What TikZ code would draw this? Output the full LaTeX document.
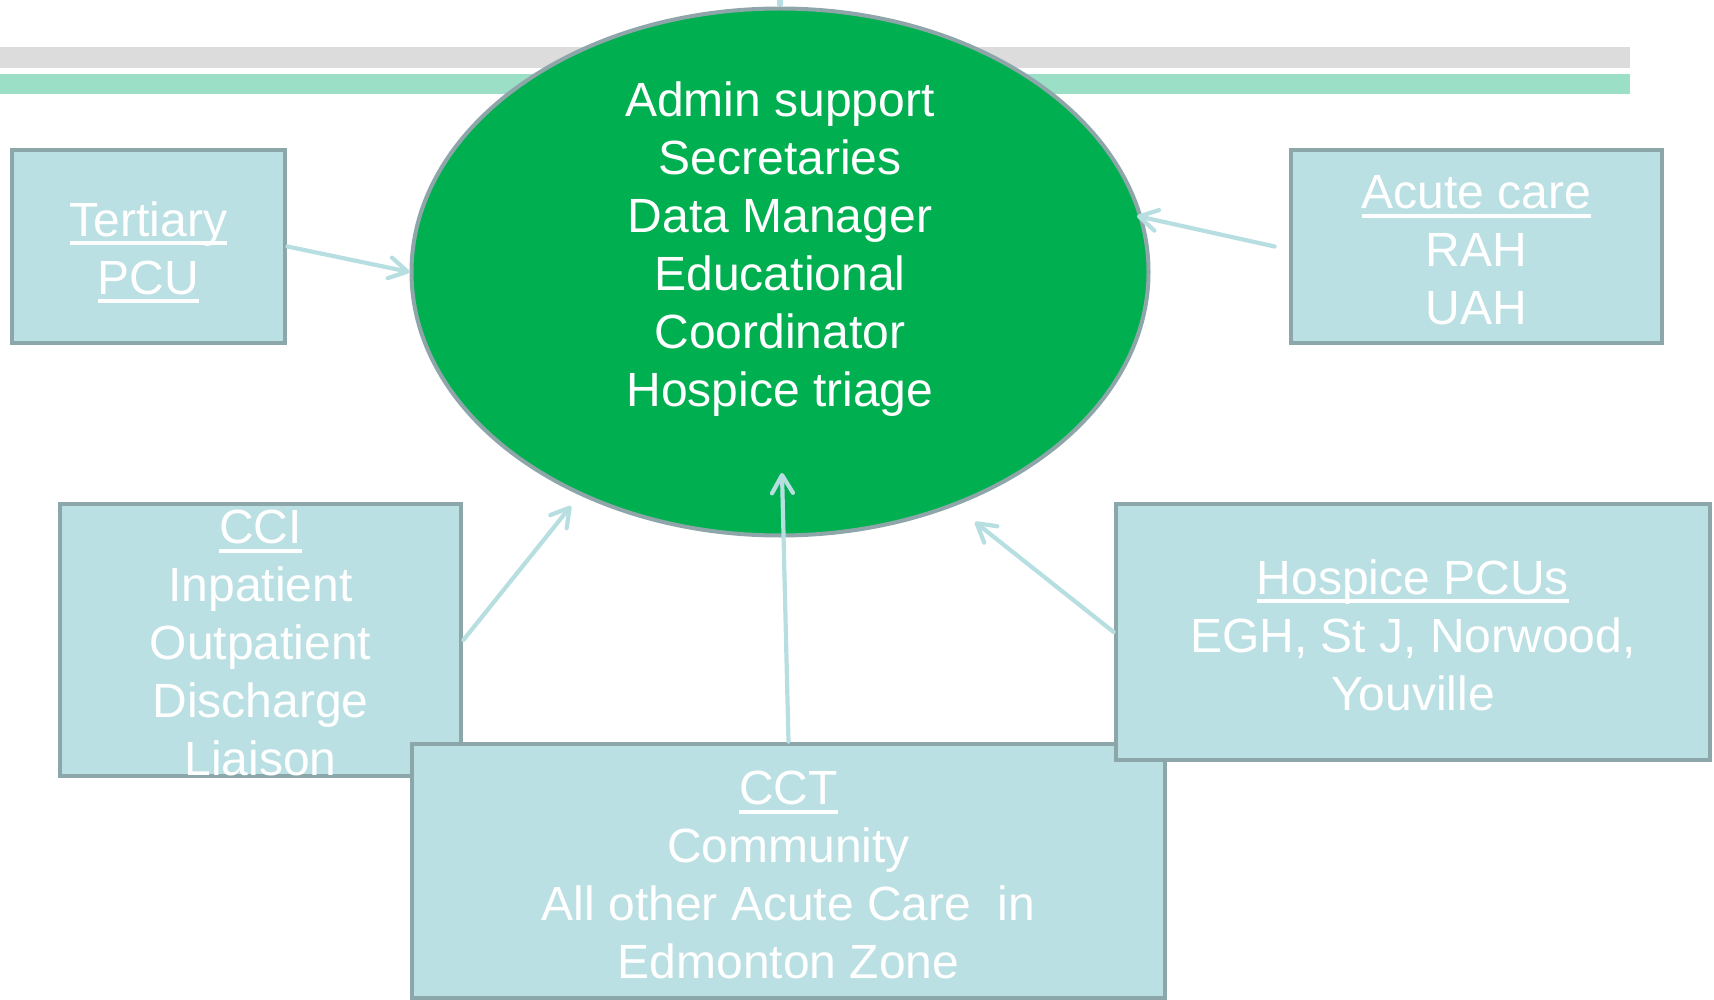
\documentclass[tikz,border=0pt]{standalone}
\usepackage{fontspec}
\setmainfont{Liberation Sans}
\usetikzlibrary{shapes.geometric,arrows.meta}
\definecolor{boxfill}{HTML}{BBE0E3}
\definecolor{boxline}{HTML}{8BA7AA}
\definecolor{hubfill}{HTML}{00B050}
\definecolor{hubline}{HTML}{8EA6A9}
\definecolor{arrowcol}{HTML}{B7DEE1}
\definecolor{grayband}{HTML}{DCDCDC}
\definecolor{greenband}{HTML}{9BDFC7}
\newcommand{\ulx}[1]{\setbox0\hbox{#1}\rlap{\rule[-9pt]{\wd0}{4pt}}\box0}
\begin{document}
\begin{tikzpicture}[x=1pt,y=-1pt,
  box/.style={draw=boxline, line width=4.8pt, fill=boxfill, rectangle, inner sep=0pt},
  txt/.style={text=white, font=\fontsize{48}{58}\selectfont, align=center, inner sep=0pt},
  link/.style={draw=arrowcol, line width=4.2pt, line cap=round,
    -{Straight Barb[length=18pt,width=21pt,line cap=round,line join=round]}}]
\useasboundingbox (0,0) rectangle (1714,1000);
\fill[grayband] (0,47) rectangle (1630,68);
\fill[greenband] (0,74) rectangle (1630,94);
\node[ellipse, draw=hubline, line width=4pt, fill=hubfill, minimum width=737pt,
  minimum height=527pt, inner sep=0pt] (hub) at (780,272) {};
\draw[arrowcol, line width=6pt] (hub.north) -- ++(0,-15);
\node[box, minimum width=273pt, minimum height=193pt] (tert) at (148.5,246.5) {};
\node[txt] (terttext) at ([yshift=-6pt]tert.center) {\ulx{Tertiary}\\\ulx{PCU}};
\node[box, minimum width=371pt, minimum height=193pt] (acute) at (1476.5,246.5) {};
\node[txt] (acutetext) at ([yshift=-4pt]acute.center) {\ulx{Acute care}\\RAH\\UAH};
\node[box, minimum width=401pt, minimum height=272pt] (cci) at (260.5,640) {};
\node[txt] (ccitext) at ([yshift=-3pt]cci.center)
  {\ulx{CCI}\\Inpatient\\Outpatient\\Discharge\\Liaison};
\node[box, minimum width=753pt, minimum height=254pt] (cct) at (788.5,871) {};
\node[txt] (ccttext) at ([yshift=-4pt]cct.center)
  {\ulx{CCT}\\Community\\All other Acute Care~\ in\\Edmonton Zone};
\node[box, minimum width=594pt, minimum height=256pt] (hos) at (1413,632) {};
\node[txt] (hostext) at ([yshift=-3pt]hos.center)
  {\ulx{Hospice PCUs}\\EGH, St J, Norwood,\\Youville};
\coordinate (acuteEnd) at (1137,216);
\coordinate (cciEnd) at (571,506);
\coordinate (cctEnd) at (782,473);
\coordinate (hosEnd) at (975,522);
\draw[link] (tert.east) -- (hub.west);
\draw[link] ([xshift=-14pt]acute.west) -- (acuteEnd);
\draw[link] (cci.east) -- (cciEnd);
\draw[link] (cct.north) -- (cctEnd);
\draw[link] (hos.west) -- (hosEnd);
\node[txt] (hubtext) at (780,249)
  {Admin support\\Secretaries\\Data Manager\\Educational\\Coordinator\\Hospice triage};
\end{tikzpicture}
\end{document}
